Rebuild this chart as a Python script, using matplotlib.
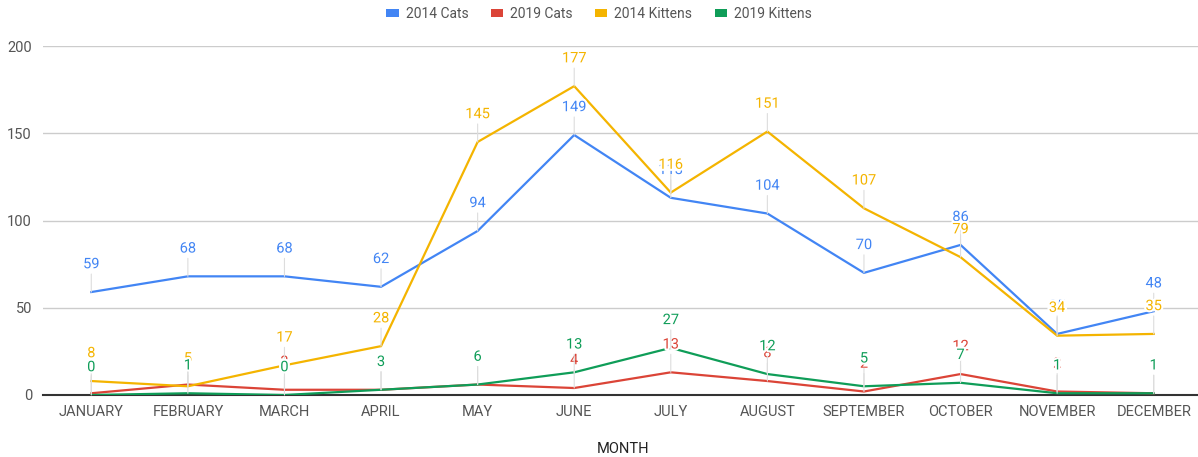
import matplotlib
matplotlib.use("Agg")
import matplotlib.pyplot as plt
import matplotlib.patheffects as pe
from matplotlib.patches import Patch

plt.rcParams['font.family'] = ['Roboto', 'DejaVu Sans']

months = ["JANUARY", "FEBRUARY", "MARCH", "APRIL", "MAY", "JUNE", "JULY",
          "AUGUST", "SEPTEMBER", "OCTOBER", "NOVEMBER", "DECEMBER"]
cats_2014 = [59, 68, 68, 62, 94, 149, 113, 104, 70, 86, 35, 48]
cats_2019 = [1, 6, 3, 3, 6, 4, 13, 8, 2, 12, 2, 1]
kittens_2014 = [8, 5, 17, 28, 145, 177, 116, 151, 107, 79, 34, 35]
kittens_2019 = [0, 1, 0, 3, 6, 13, 27, 12, 5, 7, 1, 1]

series = [
    ("2014 Cats", cats_2014, "#4285F4"),
    ("2019 Cats", cats_2019, "#DB4437"),
    ("2014 Kittens", kittens_2014, "#F4B400"),
    ("2019 Kittens", kittens_2019, "#0F9D58"),
]
y_ticks = [0, 50, 100, 150, 200]

fig = plt.figure(figsize=(11.98, 4.57), dpi=100)
ax = fig.add_axes([43 / 1198, 62 / 457, 1159 / 1198, 349 / 457])

x = list(range(len(months)))

for name, vals, col in series:
    ax.plot(x, vals, color=col, lw=1.6, zorder=3, solid_joinstyle='miter')

# value labels with thin stems, drawn in series order
for i, (name, vals, col) in enumerate(series):
    for xi, v in zip(x, vals):
        ax.annotate(str(v), xy=(xi, v), xytext=(0, 20), textcoords='offset points',
                    ha='center', va='center', fontsize=10.5, color=col,
                    zorder=5 + i, annotation_clip=False,
                    path_effects=[pe.withStroke(linewidth=3, foreground='white')],
                    arrowprops=dict(arrowstyle='-', color='#dddddd', lw=0.8,
                                    shrinkA=0, shrinkB=0, relpos=(0.5, 0.0)))

ax.set_xlim(-0.5, 11.5)
ax.set_ylim(0, 200)
ax.set_yticks(y_ticks)
ax.set_xticks(x)
ax.set_xticklabels(months)
ax.tick_params(axis='both', length=0, labelsize=10.5, labelcolor='#555555')
ax.tick_params(axis='y', pad=8)
ax.tick_params(axis='x', pad=7)
ax.grid(axis='y', color='#cccccc', lw=1, zorder=0)
ax.set_axisbelow(True)
for s in ['top', 'right', 'left']:
    ax.spines[s].set_visible(False)
ax.spines['bottom'].set_color('#333333')
ax.spines['bottom'].set_linewidth(1.5)
ax.spines['bottom'].set_zorder(2.5)

ax.set_xlabel("MONTH", fontsize=10.5, color='#222222', labelpad=17)

handles = [Patch(facecolor=col, edgecolor='none', label=name) for name, vals, col in series]
fig.legend(handles=handles, loc='upper center', bbox_to_anchor=(0.5, 1.012), ncol=4,
           frameon=False, handlelength=0.9, handleheight=0.55, handletextpad=0.5,
           columnspacing=1.6, fontsize=10, labelcolor='#555555')

fig.savefig("out.png", dpi=100)
